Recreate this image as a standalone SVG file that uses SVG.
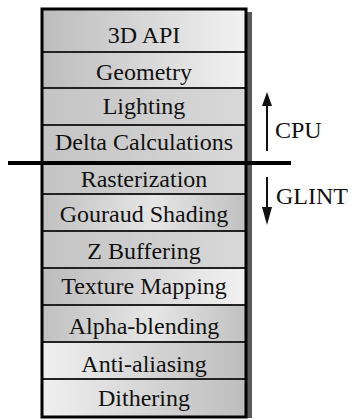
<svg xmlns="http://www.w3.org/2000/svg" width="351" height="420" viewBox="0 0 351 420">
<style>
.lbl{font-family:'Liberation Serif','Times New Roman',serif;font-size:24px;fill:#111;text-anchor:middle}
.side{font-family:'Liberation Serif','Times New Roman',serif;font-size:24px;fill:#111}
.sep{stroke:#222;stroke-width:2}
.arr{stroke:#111;stroke-width:2}
</style>
<defs>
<linearGradient id="gA" x1="0" x2="1" y1="0" y2="0"><stop offset="0" stop-color="#bcbcbc"/><stop offset="1" stop-color="#f2f2f2"/></linearGradient>
<linearGradient id="gB" x1="0" x2="1" y1="0" y2="0"><stop offset="0" stop-color="#f0f0f0"/><stop offset="1" stop-color="#bdbdbd"/></linearGradient>
<linearGradient id="gC" x1="0" x2="1" y1="0" y2="0"><stop offset="0" stop-color="#c0c0c0"/><stop offset="0.55" stop-color="#e6e6e6"/><stop offset="1" stop-color="#c0c0c0"/></linearGradient>
<linearGradient id="gD" x1="0" x2="1" y1="0" y2="0"><stop offset="0" stop-color="#c4c4c4"/><stop offset="1" stop-color="#d8d8d8"/></linearGradient>
</defs>
<rect x="246" y="12" width="6" height="406" fill="#5a5a5a"/>
<g id="n1"><rect x="42" y="9" width="204" height="43" fill="url(#gA)"/><text class="lbl" x="144" y="43">3D API</text></g>
<g id="n2"><rect x="42" y="52" width="204" height="36" fill="url(#gA)"/><text class="lbl" x="144" y="80">Geometry</text></g>
<g id="n3"><rect x="42" y="88" width="204" height="37" fill="url(#gD)"/><text class="lbl" x="144" y="114">Lighting</text></g>
<g id="n4"><rect x="42" y="125" width="204" height="37" fill="url(#gD)"/><text class="lbl" x="144" y="150">Delta Calculations</text></g>
<g id="n5"><rect x="42" y="162" width="204" height="32" fill="url(#gD)"/><text class="lbl" x="144" y="187">Rasterization</text></g>
<g id="n6"><rect x="42" y="194" width="204" height="37" fill="url(#gC)"/><text class="lbl" x="144" y="222">Gouraud Shading</text></g>
<g id="n7"><rect x="42" y="231" width="204" height="37" fill="url(#gD)"/><text class="lbl" x="144" y="259">Z Buffering</text></g>
<g id="n8"><rect x="42" y="268" width="204" height="37" fill="url(#gA)"/><text class="lbl" x="144" y="294">Texture Mapping</text></g>
<g id="n9"><rect x="42" y="305" width="204" height="37" fill="url(#gC)"/><text class="lbl" x="144" y="334">Alpha-blending</text></g>
<g id="n10"><rect x="42" y="342" width="204" height="37" fill="url(#gB)"/><text class="lbl" x="144" y="372">Anti-aliasing</text></g>
<g id="n11"><rect x="42" y="379" width="204" height="38" fill="url(#gB)"/><text class="lbl" x="144" y="406">Dithering</text></g>
<g id="connectors">
<line class="sep" x1="42" y1="52" x2="246" y2="52"/>
<line class="sep" x1="42" y1="88" x2="246" y2="88"/>
<line class="sep" x1="42" y1="125" x2="246" y2="125"/>
<line class="sep" x1="42" y1="194" x2="246" y2="194"/>
<line class="sep" x1="42" y1="231" x2="246" y2="231"/>
<line class="sep" x1="42" y1="268" x2="246" y2="268"/>
<line class="sep" x1="42" y1="305" x2="246" y2="305"/>
<line class="sep" x1="42" y1="342" x2="246" y2="342"/>
<line class="sep" x1="42" y1="379" x2="246" y2="379"/>
<rect x="42" y="9" width="204" height="408" fill="none" stroke="#000" stroke-width="3"/>
<line x1="8" y1="163" x2="291" y2="163" stroke="#000" stroke-width="4"/>
<line class="arr" x1="267" y1="104" x2="267" y2="151"/>
<polygon points="267,92 262,106 272,106" fill="#111"/>
<line class="arr" x1="267" y1="177" x2="267" y2="210"/>
<polygon points="267,225 262,207 272,207" fill="#111"/>
</g>
<text class="side" x="275" y="138">CPU</text>
<text class="side" x="276" y="204">GLINT</text>
</svg>
